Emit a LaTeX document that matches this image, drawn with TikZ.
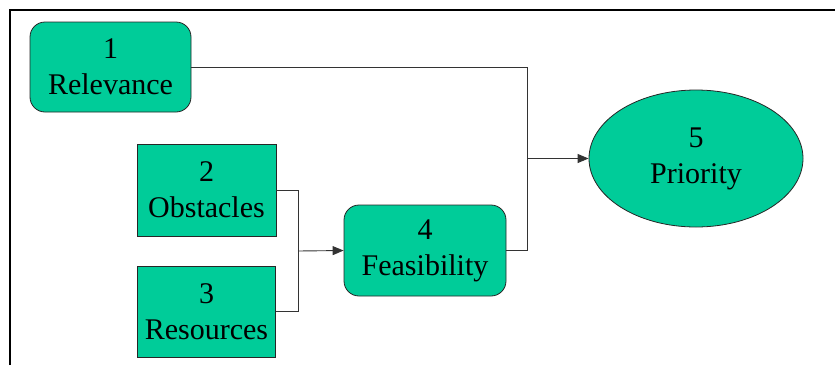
\documentclass[tikz,border=0pt]{standalone}
\usepackage{fontspec}
\setmainfont{Liberation Serif}
\usetikzlibrary{arrows.meta,shapes.geometric}
\definecolor{boxgreen}{RGB}{0,204,153}
\tikzset{
	box/.style={draw=black!85, fill=boxgreen, line width=0.8pt, align=center, inner sep=0pt,
		font=\fontsize{30}{36}\selectfont},
	rbox/.style={box, rounded corners=15pt},
	link/.style={draw=black!80, line width=0.9pt},
	tip/.style={link, -{Triangle[length=11pt,width=9pt]}}
}
\begin{document}
\begin{tikzpicture}[x=1pt,y=-1pt]
			\useasboundingbox (0,0) rectangle (835,365);
			\draw[line width=1.8pt] (10,365) -- (10,10) -- (835,10);
			\node[rbox, minimum width=161pt, minimum height=90pt] (rel) at (110.5,67) {1\\Relevance};
			\node[box, minimum width=139pt, minimum height=92pt] (obs) at (206.5,190) {2\\Obstacles};
			\node[box, minimum width=138pt, minimum height=91pt] (res) at (206.5,311.5) {3\\Resources};
			\node[rbox, minimum width=162pt, minimum height=91pt] (feas) at (425,250.5) {4\\Feasibility};
			\node[box, ellipse, minimum width=214pt, minimum height=137pt] (prio) at (696,158.5) {5\\Priority};
			\coordinate (jl) at (298,251);
			\coordinate (jr) at (527,158.5);
			\draw[link] (obs.east) -| (jl);
			\draw[link] (res.east) -| (jl);
			\draw[tip] (jl) -- (feas.west);
			\draw[link] (rel.east) -| (jr);
			\draw[link] (feas.east) -| (jr);
			\draw[tip] (jr) -- (prio.west);
		\end{tikzpicture}
\end{document}
